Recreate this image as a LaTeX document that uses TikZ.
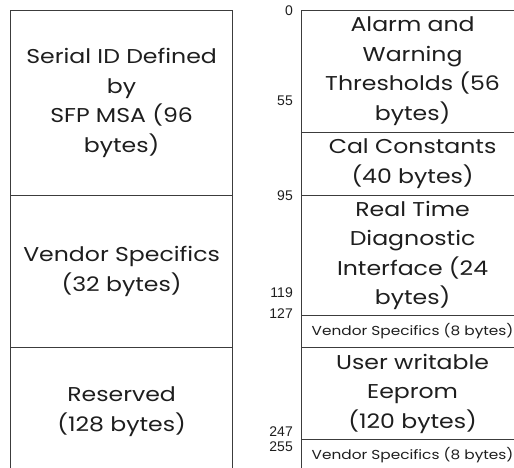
\documentclass[tikz,border=0pt]{standalone}
\usepackage{fontspec}
\setmainfont{Poppins}[FakeStretch=1.18]
\newfontfamily\numfont{Liberation Sans}
\definecolor{linecol}{HTML}{3C3C3C}
\definecolor{txtcol}{HTML}{1E1E1E}
\begin{document}
\begin{tikzpicture}[x=1pt,y=-1pt,
  cell/.style={draw=linecol,line width=1.2pt,inner sep=0pt,minimum width=222pt,
    align=center,text=txtcol,font=\fontsize{20}{29.5}\selectfont,anchor=north west},
  smallcell/.style={cell,font=\fontsize{13}{15}\selectfont},
  addr/.style={anchor=east,inner sep=0pt,text=txtcol,font=\numfont\fontsize{14}{16}\selectfont}]
\useasboundingbox (0,0) rectangle (514,467);
\begin{scope}
\clip (0,0) rectangle (514,467);
% left column
\node[cell,minimum height=185pt] (serial) at (10,10) {Serial ID Defined\\by\\SFP MSA (96\\bytes)};
\node[cell,minimum height=152pt] (vend32) at (10,195) {Vendor Specifics\\(32 bytes)};
\node[cell,minimum height=128pt] (resv) at (10,347) {Reserved\\(128 bytes)};
% right column
\node[cell,minimum height=121.5pt] (alarm) at (301,10) {Alarm and\\Warning\\Thresholds (56\\bytes)};
\node[cell,minimum height=63.5pt] (cal) at (301,131.5) {Cal Constants\\(40 bytes)};
\node[cell,minimum height=120pt] (rtdi) at (301,195) {Real Time\\Diagnostic\\Interface (24\\bytes)};
\node[smallcell,minimum height=32pt] (vend8a) at (301,315) {Vendor Specifics (8 bytes)};
\node[cell,minimum height=92pt] (user) at (301,347) {User writable\\Eeprom\\(120 bytes)};
\node[smallcell,minimum height=32pt] (vend8b) at (301,439) {Vendor Specifics (8 bytes)};
\end{scope}
% addresses
\node[addr] (a0) at (293,10.5) {0};
\node[addr] (a55) at (293,101) {55};
\node[addr] (a95) at (293,195.5) {95};
\node[addr] (a119) at (293,293) {119};
\node[addr] (a127) at (293,313.5) {127};
\node[addr] (a247) at (293,432) {247};
\node[addr] (a255) at (293,446.5) {255};
\end{tikzpicture}
\end{document}
